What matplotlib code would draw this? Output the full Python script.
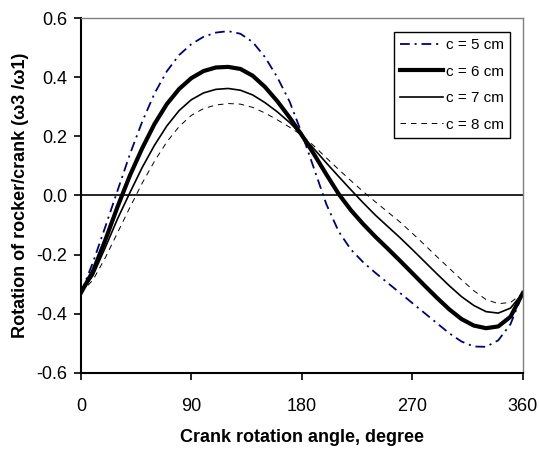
"""
Four-bar linkage: angular velocity ratio of rocker to crank (w3/w1)
versus crank rotation angle, for rocker lengths c = 5..8 cm.
"""

import numpy as np
import matplotlib.pyplot as plt
import matplotlib as mpl

# ── Data ──────────────────────────────────────────────────────────────────────
ANGLE = [0, 10, 20, 30, 40, 50, 60, 70, 80, 90, 100, 110, 120,
         130, 140, 150, 160, 170, 180, 190, 200, 210, 220, 230, 240,
         250, 260, 270, 280, 290, 300, 310, 320, 330, 340, 350, 360]

C5 = [-0.33, -0.225, -0.105, 0.018, 0.140, 0.250, 0.345, 0.420, 0.475, 0.512,
      0.537, 0.551, 0.556, 0.547, 0.519, 0.468, 0.400, 0.318, 0.210, 0.090,
      -0.030, -0.122, -0.183, -0.226, -0.262, -0.296, -0.330, -0.364, -0.398,
      -0.432, -0.466, -0.494, -0.511, -0.512, -0.490, -0.435, -0.33]
C6 = [-0.33, -0.255, -0.150, -0.037, 0.068, 0.160, 0.242, 0.309, 0.360, 0.397,
      0.421, 0.433, 0.435, 0.428, 0.405, 0.367, 0.319, 0.264, 0.204, 0.139,
      0.071, 0.005, -0.050, -0.097, -0.140, -0.180, -0.221, -0.263, -0.305,
      -0.346, -0.385, -0.418, -0.440, -0.449, -0.443, -0.410, -0.33]
C7 = [-0.33, -0.270, -0.175, -0.078, 0.010, 0.095, 0.170, 0.235, 0.287, 0.324,
      0.347, 0.359, 0.362, 0.356, 0.340, 0.314, 0.283, 0.247, 0.204, 0.157,
      0.110, 0.064, 0.019, -0.025, -0.067, -0.105, -0.143, -0.183, -0.224,
      -0.265, -0.305, -0.342, -0.372, -0.393, -0.398, -0.381, -0.33]
C8 = [-0.33, -0.285, -0.210, -0.125, -0.040, 0.042, 0.116, 0.181, 0.233, 0.271,
      0.294, 0.306, 0.311, 0.309, 0.298, 0.279, 0.256, 0.231, 0.204, 0.167,
      0.127, 0.088, 0.050, 0.013, -0.022, -0.056, -0.090, -0.128, -0.167,
      -0.207, -0.246, -0.285, -0.322, -0.352, -0.366, -0.362, -0.33]

LABELS = ["c = 5 cm", "c = 6 cm", "c = 7 cm", "c = 8 cm"]
X_TICKS = [0, 90, 180, 270, 360]
Y_TICKS = [-0.6, -0.4, -0.2, 0.0, 0.2, 0.4, 0.6]

# ── Aesthetics ────────────────────────────────────────────────────────────────
mpl.rcParams.update({
    "font.family": ["Liberation Sans", "DejaVu Sans"],
    "axes.unicode_minus": False,
    "lines.scale_dashes": False,
})

STYLE = [
    dict(color="#000080", lw=1.3, dashes=(7, 3.5, 1.5, 3.5)),
    dict(color="black", lw=3.0, ls="-"),
    dict(color="black", lw=1.2, ls="-"),
    dict(color="black", lw=0.7, dashes=(4, 3.5)),
]

fig = plt.figure(figsize=(5.39, 4.53), dpi=100)
ax = fig.add_axes([0.150, 0.177, 0.820, 0.783])

for y, lab, s in zip([C5, C6, C7, C8], LABELS, STYLE):
    ax.plot(ANGLE, y, label=lab, **s)

ax.axhline(0, color="black", lw=1.2, zorder=1)

ax.set_xlim(0, 360)
ax.set_ylim(-0.6, 0.6)
ax.set_xticks(X_TICKS)
ax.set_yticks(Y_TICKS)
ax.set_yticklabels([f"{v:.1f}" for v in Y_TICKS])
ax.tick_params(labelsize=13, length=5, width=1.2, direction="out")
ax.tick_params(axis="x", pad=13)
ax.tick_params(axis="y", pad=5)

for side in ["left", "bottom"]:
    ax.spines[side].set_color("black")
    ax.spines[side].set_linewidth(1.5)
for side in ["top", "right"]:
    ax.spines[side].set_color("#808080")
    ax.spines[side].set_linewidth(1.0)

ax.set_xlabel("Crank rotation angle, degree", fontsize=13, fontweight="bold",
              labelpad=10)
ax.set_ylabel("Rotation of rocker/crank (ω3 /ω1)", fontsize=13,
              fontweight="bold", labelpad=5)

leg = ax.legend(loc="upper right", bbox_to_anchor=(0.9706, 0.9606),
                borderaxespad=0, fontsize=11, handlelength=2.8,
                handletextpad=0.2, labelspacing=0.82, fancybox=False,
                edgecolor="black", framealpha=1, borderpad=0.4)
leg.get_frame().set_linewidth(1.0)

fig.savefig("out.png", dpi=100)
